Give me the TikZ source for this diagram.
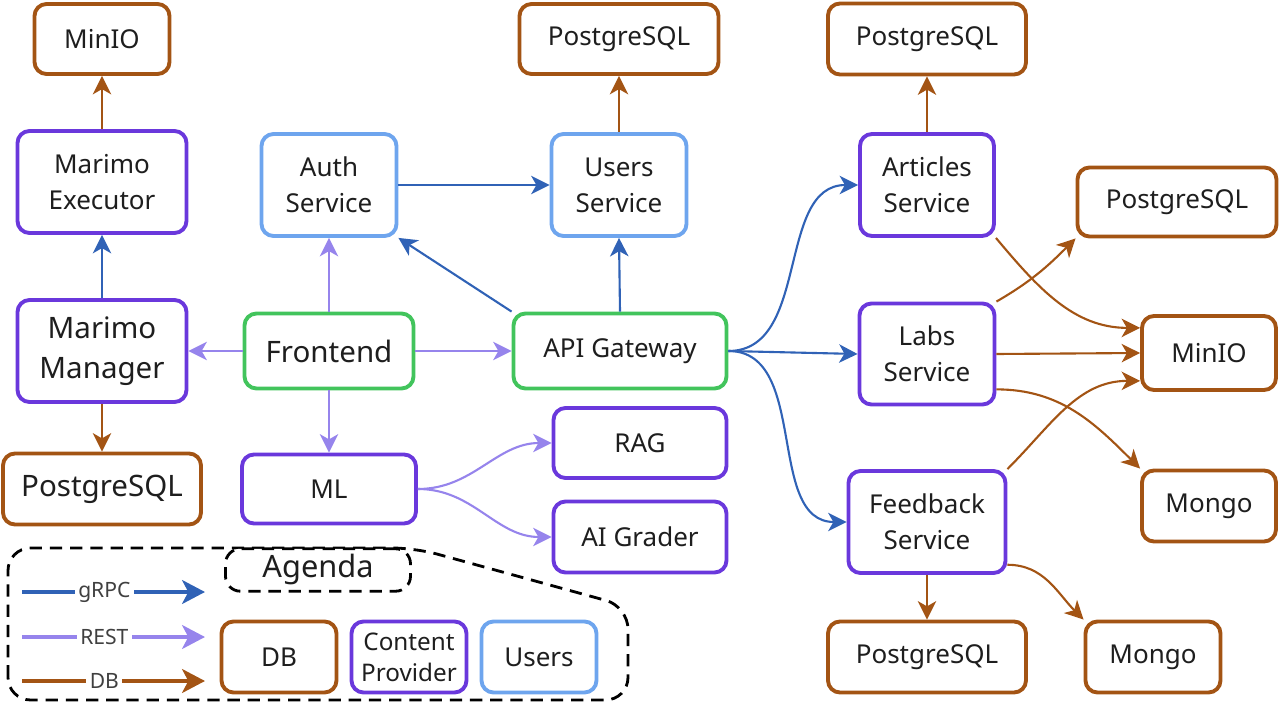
\documentclass[tikz,border=0pt]{standalone}
\usepackage{fontspec}
\setmainfont{Noto Sans}
\usetikzlibrary{arrows.meta}

\definecolor{dbbrown}{RGB}{163,84,20}
\definecolor{cpurple}{RGB}{106,56,220}
\definecolor{userblue}{RGB}{110,165,238}
\definecolor{gwgreen}{RGB}{66,196,92}
\definecolor{grpcblue}{RGB}{48,98,182}
\definecolor{restlilac}{RGB}{150,132,236}
\definecolor{inktext}{RGB}{30,30,30}

\tikzset{
  box/.style={rectangle,draw,rounded corners=0.24cm,line width=2.2pt,fill=white,align=center,text=inktext,inner sep=2pt,font=\fontsize{14.8}{20.5}\selectfont},
  bigtext/.style={font=\fontsize{16.8}{23}\selectfont},
  dbbox/.style={box,draw=dbbrown},
  cpbox/.style={box,draw=cpurple},
  userbox/.style={box,draw=userblue},
  gwbox/.style={box,draw=gwgreen},
  grpc/.style={->,draw=grpcblue,line width=1.2pt},
  rest/.style={->,draw=restlilac,line width=1.2pt},
  dblink/.style={->,draw=dbbrown,line width=1.2pt},
  keyarrow/.style={line width=2.5pt,-{Stealth[length=13pt,width=13.5pt,inset=3.5pt]}},
  keylabel/.style={fill=white,inner sep=2pt,text=black!75,font=\fontsize{12}{14}\selectfont},
}

\begin{document}
\begin{tikzpicture}[>={Stealth[length=10.5pt,width=10.5pt,inset=3pt]}]
        \useasboundingbox (0,0) rectangle (25.6,14.08);

        % marimo column
        \draw (2.04,13.30) node (minioTop) [dbbox,minimum width=2.70cm,minimum height=1.40cm] {MinIO};
        \draw (2.04,10.44) node (executor) [cpbox,minimum width=3.38cm,minimum height=2.04cm] {Marimo\\Executor};
        \draw (2.04,7.06) node (manager) [cpbox,bigtext,minimum width=3.38cm,minimum height=2.04cm] {Marimo\\Manager};
        \draw (2.04,4.30) node (pgManager) [dbbox,bigtext,minimum width=3.96cm,minimum height=1.42cm] {PostgreSQL};

        % frontend column
        \draw (6.58,10.38) node (auth) [userbox,minimum width=2.70cm,minimum height=2.04cm] {Auth\\Service};
        \draw (6.58,7.06) node (frontend) [gwbox,bigtext,minimum width=3.38cm,minimum height=1.50cm] {Frontend};
        \draw (6.58,4.30) node (ml) [cpbox,minimum width=3.48cm,minimum height=1.38cm] {ML};

        % gateway column
        \draw (12.38,13.30) node (pgUsers) [dbbox,minimum width=3.98cm,minimum height=1.40cm] {PostgreSQL};
        \draw (12.38,10.38) node (users) [userbox,minimum width=2.70cm,minimum height=2.04cm] {Users\\Service};
        \draw (12.40,7.06) node (gateway) [gwbox,minimum width=4.26cm,minimum height=1.50cm] {API Gateway};
        \draw (12.80,5.22) node (rag) [cpbox,minimum width=3.46cm,minimum height=1.40cm] {RAG};
        \draw (12.80,3.34) node (grader) [cpbox,minimum width=3.46cm,minimum height=1.42cm] {AI Grader};

        % content services
        \draw (18.54,13.30) node (pgArticles) [dbbox,minimum width=3.96cm,minimum height=1.42cm] {PostgreSQL};
        \draw (18.54,10.38) node (articles) [cpbox,minimum width=2.68cm,minimum height=2.04cm] {Articles\\Service};
        \draw (18.54,7.00) node (labs) [cpbox,minimum width=2.70cm,minimum height=2.02cm] {Labs\\Service};
        \draw (18.54,3.64) node (feedback) [cpbox,minimum width=3.14cm,minimum height=2.04cm] {Feedback\\Service};
        \draw (18.54,0.94) node (pgFeedback) [dbbox,minimum width=3.96cm,minimum height=1.42cm] {PostgreSQL};

        % storages on the right
        \draw (23.54,10.04) node (pgLabs) [dbbox,minimum width=3.98cm,minimum height=1.38cm] {PostgreSQL};
        \draw (24.18,7.02) node (minioLabs) [dbbox,minimum width=2.68cm,minimum height=1.48cm] {MinIO};
        \draw (24.18,3.96) node (mongoLabs) [dbbox,minimum width=2.68cm,minimum height=1.42cm] {Mongo};
        \draw (23.06,0.94) node (mongoFeedback) [dbbox,minimum width=2.70cm,minimum height=1.42cm] {Mongo};

        % connections
        \draw [dblink] (executor.north) to (minioTop.south);
        \draw [grpc] (manager.north) to (executor.south);
        \draw [dblink] (manager.south) to (pgManager.north);
        \draw [rest] (frontend.west) to (manager.east);
        \draw [rest] (frontend.north) to (auth.south);
        \draw [rest] (frontend.south) to (ml.north);
        \draw [rest] (frontend.east) to (gateway.west);
        \draw [grpc] (auth.east) to (users.west);
        \draw [grpc] (gateway.north west) to (auth.south east);
        \draw [grpc] (gateway.north) to (users.south);
        \draw [dblink] (users.north) to (pgUsers.south);
        \draw [rest] (ml.east) to [out=0,in=180] (rag.west);
        \draw [rest] (ml.east) to [out=0,in=180] (grader.west);
        \draw [grpc] (gateway.east) to [out=0,in=180] (articles.west);
        \draw [grpc] (gateway.east) to (labs.west);
        \draw [grpc] (gateway.east) to [out=0,in=180] (feedback.west);
        \draw [dblink] (articles.north) to (pgArticles.south);
        \draw [dblink] (articles.south east) to [out=-50,in=180] (minioLabs.160);
        \draw [dblink] (labs.north east) to [out=30,in=-135] (pgLabs.south west);
        \draw [dblink] (labs.east) to (minioLabs.west);
        \draw [dblink] (labs.-27) to [out=0,in=135] (mongoLabs.north west);
        \draw [dblink] (feedback.north east) to [out=45,in=180] (minioLabs.202);
        \draw [dblink] (feedback.south) to (pgFeedback.north);
        \draw [dblink] (feedback.-28) to [out=0,in=135] (mongoFeedback.north west);

        % agenda
        \draw [draw,dashed,line width=1.6pt,dash pattern=on 7pt off 4.5pt,rounded corners=0.45cm] (0.16,0.08) -- (0.16,3.12) -- (8.30,3.12) -- (12.56,1.95) -- (12.56,0.08) -- cycle;
        \draw (6.36,2.68) node (agenda) [rectangle,draw,dashed,line width=1.6pt,dash pattern=on 7pt off 4.5pt,rounded corners=0.3cm,fill=white,text=inktext,minimum width=3.70cm,minimum height=0.84cm,font=\fontsize{17.5}{20}\selectfont] {Agenda};
        \coordinate (grpcFrom) at (0.44,2.24);
        \coordinate (grpcTo) at (4.10,2.24);
        \coordinate (restFrom) at (0.44,1.34);
        \coordinate (restTo) at (4.10,1.34);
        \coordinate (dbFrom) at (0.44,0.46);
        \coordinate (dbTo) at (4.10,0.46);
        \draw [keyarrow,draw=grpcblue] (grpcFrom) to node [keylabel,pos=0.45] {gRPC} (grpcTo);
        \draw [keyarrow,draw=restlilac] (restFrom) to node [keylabel,pos=0.45] {REST} (restTo);
        \draw [keyarrow,draw=dbbrown] (dbFrom) to node [keylabel,pos=0.45] {DB} (dbTo);
        \draw (5.58,0.94) node (dbKey) [dbbox,minimum width=2.30cm,minimum height=1.42cm] {DB};
        \draw (8.18,0.94) node (cpKey) [cpbox,minimum width=2.30cm,minimum height=1.42cm,font=\fontsize{13.8}{17.5}\selectfont] {Content\\Provider};
        \draw (10.78,0.94) node (usersKey) [userbox,minimum width=2.30cm,minimum height=1.42cm] {Users};
    \end{tikzpicture}
\end{document}
